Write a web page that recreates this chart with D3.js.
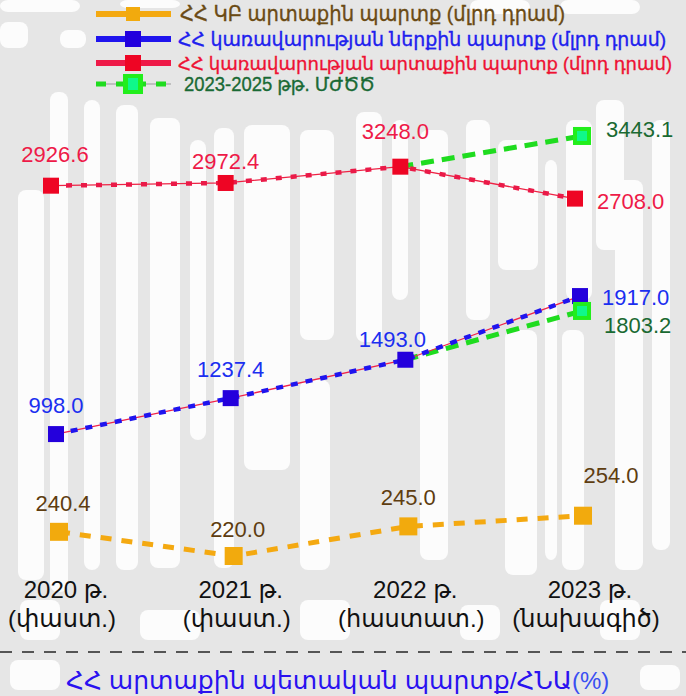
<!DOCTYPE html>
<html>
<head>
<meta charset="utf-8">
<script src="https://cdn.jsdelivr.net/npm/d3@7"></script>
<style>
  html, body { margin: 0; padding: 0; background: #fff; }
  svg { display: block; }
</style>
</head>
<body>
<svg id="chart" width="686" height="696"></svg>
<script>
// ---------- DATA ----------
const years = ["2020", "2021", "2022", "2023"];
const yearLabels = ["2020 թ.", "2021 թ.", "2022 թ.", "2023 թ."];
const yearNotes = ["(փաստ.)", "(փաստ.)", "(հաստատ.)", "(նախագիծ)"];

const cbExternal  = [240.4, 220.0, 245.0, 254.0];     // ՀՀ ԿԲ արտաքին պարտք
const govDomestic = [998.0, 1237.4, 1493.0, 1917.0];  // ՀՀ կառավարության ներքին պարտք
const govExternal = [2926.6, 2972.4, 3248.0, 2708.0]; // ՀՀ կառավարության արտաքին պարտք

const mtefYears    = ["2022", "2023"];
const mtefExternal = [3248.0, 3443.1];  // 2023-2025 ՄԺԾԾ
const mtefDomestic = [1493.0, 1803.2];

const legendLabels = [
  "ՀՀ ԿԲ արտաքին պարտք (մլրդ դրամ)",
  "ՀՀ կառավարության ներքին պարտք (մլրդ դրամ)",
  "ՀՀ կառավարության արտաքին պարտք (մլրդ դրամ)",
  "2023-2025 թթ. ՄԺԾԾ"
];
const bottomTitle = "ՀՀ արտաքին պետական պարտք/ՀՆԱ";
const bottomUnit = "(%)";

// ---------- LAYOUT ----------
const W = 686, H = 696;
const svg = d3.select("#chart");
const FONT = "'Liberation Sans', Arial, 'DejaVu Sans', sans-serif";

// background decoration (faded calligraphy look)
const bg = svg.append("g");
bg.append("rect").attr("width", W).attr("height", H).attr("fill", "#e6e6e6");
const bgWhite = [
  [0,0,80,12],[120,0,60,8],[470,0,60,14],[560,0,80,14],[0,22,28,26],[60,30,26,18],
  [18,190,26,390],[50,92,18,500],[84,100,16,470],[116,105,22,465],[150,118,30,450],
  [190,140,16,300],[214,128,20,440],[244,125,46,345],[300,130,34,210],[300,380,30,190],
  [356,112,26,230],[392,120,16,180],[420,130,28,430],[466,120,24,200],[498,140,40,130],
  [505,330,32,245],[545,160,12,400],[566,120,26,180],[562,330,22,240],[596,100,28,150],[615,180,28,390],[652,120,18,430],
  [20,600,40,40],[140,610,60,30],[300,600,50,40],[460,605,40,35],[600,600,40,40],
  [10,660,50,30],[640,665,40,25]
];
bg.selectAll("rect.w").data(bgWhite).join("rect").attr("class", "w")
  .attr("x", d => d[0]).attr("y", d => d[1]).attr("width", d => d[2]).attr("height", d => d[3])
  .attr("rx", 8).attr("fill", "#fcfcfc");

// ---------- SCALES ----------
const x = d3.scalePoint().domain(years).range([54, 578]);
// each series has its own vertical scale (as in the original composite picture)
const yCb   = d3.scaleLinear().domain([200, 260]).range([579.7, 508.6]);
const yDom  = d3.scaleLinear().domain([900, 2000]).range([448.8, 283.6]);
const yExt  = d3.scaleLinear().domain([2600, 3300]).range([205.0, 163.6]);
const yMtef = d3.scaleLinear().domain([1800, 3500]).range([311.3, 129.9]);

const series = [
  { key: "cb",  values: cbExternal,  y: yCb,  dx: 5, marker: "#f2aa0d", line: "#f4a911", label: "#5e3d10",
    size: 18, lw: 5, dash: "11,10", under: null },
  { key: "dom", values: govDomestic, y: yDom, dx: 2, marker: "#2400dc", line: "#1f14ee", label: "#1b2ff0",
    size: 16, lw: 4.5, dash: "7,8", under: "#f0244a" },
  { key: "ext", values: govExternal, y: yExt, dx: -3, marker: "#ee0524", line: "#ea1a48", label: "#ee1a48",
    size: 16, lw: 4.5, dash: "6,9", under: "#ee2244" }
];
const byKey = Object.fromEntries(series.map(s => [s.key, s]));

// data-label layout: "up" = centered above, "right" = to the right
const labelLayout = {
  cb:  [["up",4,-21],["up",4,-19],["up",0,-21],["up",28,-33]],
  dom: [["up",0,-21],["up",0,-21],["up",-13,-13],["right",22,2]],
  ext: [["up",4,-24],["up",0,-14],["up",-5,-28],["right",22,3]],
  mtef:[["right",24,-6],["right",22,15]]
};

const gLines = svg.append("g");
const gMarks = svg.append("g");
const gLabels = svg.append("g").attr("font-family", FONT).attr("font-size", 22);

const fmt = d3.format(".1f");

// MTEF (green) lines: start at the 2022 actual marker, end at 2023 MTEF point
const mtefSets = [
  { vals: mtefExternal, base: byKey.ext, li: 0 },
  { vals: mtefDomestic, base: byKey.dom, li: 1 }
];
mtefSets.forEach(m => {
  const p0 = [x(mtefYears[0]) + m.base.dx, m.base.y(m.vals[0])];
  const p1 = [x(mtefYears[1]) + 4, yMtef(m.vals[1])];
  gLines.append("path").attr("d", d3.line()([p0, p1]))
    .attr("stroke", "#1fdc1f").attr("stroke-width", 5).attr("stroke-dasharray", "13,8").attr("fill", "none");
});

series.forEach(s => {
  const pts = s.values.map((v, i) => [x(years[i]) + s.dx, s.y(v)]);
  if (s.under) {
    gLines.append("path").attr("d", d3.line()(pts)).attr("stroke", s.under)
      .attr("stroke-width", 1.3).attr("fill", "none");
  }
  gLines.append("path").attr("d", d3.line()(pts)).attr("stroke", s.line)
    .attr("stroke-width", s.lw).attr("stroke-dasharray", s.dash).attr("fill", "none");
  gMarks.selectAll(null).data(pts).join("rect")
    .attr("x", d => d[0] - s.size / 2).attr("y", d => d[1] - s.size / 2)
    .attr("width", s.size).attr("height", s.size).attr("fill", s.marker);
  s.values.forEach((v, i) => {
    const [mode, ox, oy] = labelLayout[s.key][i];
    gLabels.append("text")
      .attr("x", pts[i][0] + ox).attr("y", pts[i][1] + oy + (mode === "right" ? 7 : 0))
      .attr("text-anchor", mode === "right" ? "start" : "middle")
      .attr("fill", s.label).text(fmt(v));
  });
});

// MTEF markers and labels
mtefSets.forEach(m => {
  const px = x(mtefYears[1]) + 4, py = yMtef(m.vals[1]);
  gMarks.append("rect").attr("x", px - 9).attr("y", py - 9).attr("width", 18).attr("height", 18).attr("fill", "#22ee1c");
  gMarks.append("rect").attr("x", px - 5).attr("y", py - 5).attr("width", 10).attr("height", 10).attr("fill", "#10f88a");
  const [mode, ox, oy] = labelLayout.mtef[m.li];
  gLabels.append("text").attr("x", px + ox).attr("y", py + oy + 7)
    .attr("fill", "#1a6a32").text(fmt(m.vals[1]));
});

// ---------- X AXIS LABELS ----------
const gAxis = svg.append("g").attr("font-family", FONT).attr("font-size", 24).attr("fill", "#111")
  .attr("text-anchor", "middle");
years.forEach((yr, i) => {
  gAxis.append("text").attr("x", x(yr) + 12).attr("y", 598).text(yearLabels[i]);
  gAxis.append("text").attr("x", x(yr) + 8).attr("y", 627).text(yearNotes[i]);
});

// dashed separator
svg.append("line").attr("x1", 0).attr("x2", W).attr("y1", 652).attr("y2", 652)
  .attr("stroke", "#555").attr("stroke-width", 2).attr("stroke-dasharray", "12,10");

// bottom title
const title = svg.append("text").attr("x", 66).attr("y", 689)
  .attr("font-family", FONT).attr("font-size", 24);
title.append("tspan").attr("fill", "#2a12f0").attr("textLength", 506)
  .attr("lengthAdjust", "spacingAndGlyphs").text(bottomTitle);
title.append("tspan").attr("fill", "#3a4ff2").text(bottomUnit);

// ---------- LEGEND ----------
const legend = svg.append("g").attr("font-family", FONT);
const legRows = [
  { y: 14, line: "#f4a911", marker: "#f2aa0d", ms: 14, text: "#6b4b14", tx: 180, tl: 385, fs: 21 },
  { y: 39, line: "#1f14ee", marker: "#2200dd", ms: 16, text: "#2020ee", tx: 178, tl: 488, fs: 19 },
  { y: 63, line: "#ee1a48", marker: "#ee0524", ms: 16, text: "#ee1133", tx: 178, tl: 494, fs: 18 },
  { y: 84, line: "#1fdc1f", marker: "#22ee1c", ms: 20, text: "#1a6a35", tx: 184, tl: 191, fs: 20 }
];
legRows.forEach((r, i) => {
  if (i < 3) {
    legend.append("line").attr("x1", 96).attr("x2", 171).attr("y1", r.y).attr("y2", r.y)
      .attr("stroke", r.line).attr("stroke-width", 6);
  } else {
    legend.append("line").attr("x1", 96).attr("x2", 171).attr("y1", r.y).attr("y2", r.y)
      .attr("stroke", "#9a9a9a").attr("stroke-width", 1);
    legend.append("line").attr("x1", 96).attr("x2", 171).attr("y1", r.y).attr("y2", r.y)
      .attr("stroke", r.line).attr("stroke-width", 5).attr("stroke-dasharray", "10,10");
  }
  legend.append("rect").attr("x", 133 - r.ms / 2).attr("y", r.y - r.ms / 2)
    .attr("width", r.ms).attr("height", r.ms).attr("fill", r.marker);
  if (i === 3) {
    legend.append("rect").attr("x", 133 - 5).attr("y", r.y - 6).attr("width", 10).attr("height", 12).attr("fill", "#10f88a");
  }
  legend.append("text").attr("x", r.tx).attr("y", r.y + 7).attr("fill", r.text).attr("font-size", r.fs)
    .attr("stroke", r.text).attr("stroke-width", 0.35)
    .attr("textLength", r.tl).attr("lengthAdjust", "spacingAndGlyphs").text(legendLabels[i]);
});
</script>
</body>
</html>
